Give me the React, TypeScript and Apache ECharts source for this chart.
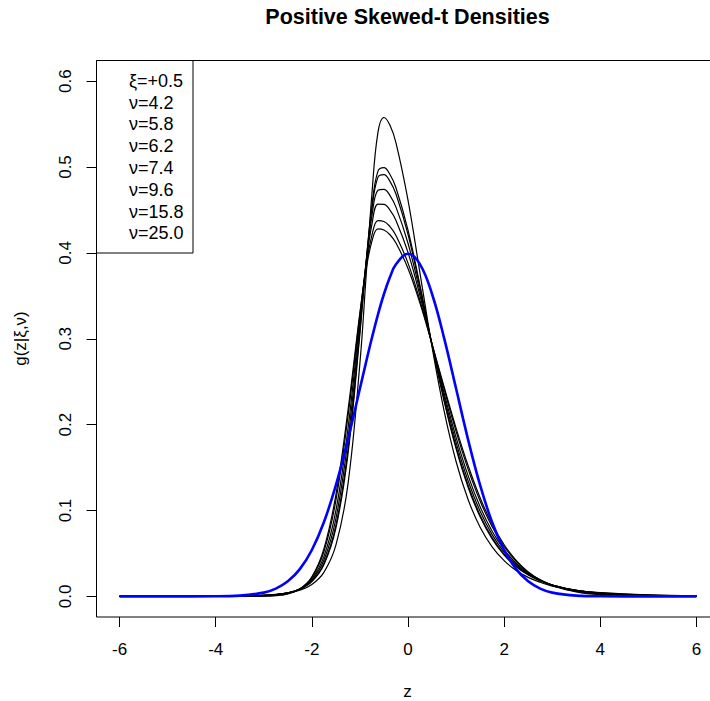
import React, { useEffect, useRef } from "react";
import * as echarts from "echarts";

// z grid at which the curves were read
const zGrid = [
  -6, -5, -4, -3.5, -3, -2.75, -2.5, -2.25, -2, -1.75, -1.5, -1.25, -1, -0.875, -0.75, -0.625,
  -0.5, -0.375, -0.25, 0, 0.25, 0.5, 0.75, 1, 1.25, 1.5, 1.75, 2, 2.25, 2.5, 2.75, 3, 3.5, 4, 5, 6,
];

// skewed-t densities (black curves)
const nu42 = [
  0.00003, 0.00008, 0.00028, 0.0006, 0.00145, 0.00238, 0.00407, 0.00732, 0.0139, 0.028, 0.0596, 0.1302,
  0.2718, 0.3701, 0.4691, 0.5402, 0.5576, 0.5485, 0.5282, 0.4615, 0.3762, 0.2907, 0.2163, 0.1571, 0.1128,
  0.0806, 0.0577, 0.0416, 0.0302, 0.0221, 0.0164, 0.012, 0.0071, 0.0043, 0.0018, 0.0008,
];
const nu58 = [
  0.00001, 0.00003, 0.00016, 0.00041, 0.00122, 0.00222, 0.00422, 0.00836, 0.0173, 0.0369, 0.0795, 0.1651,
  0.306, 0.3863, 0.4551, 0.4952, 0.4992, 0.4912, 0.4758, 0.4265, 0.3618, 0.2927, 0.2278, 0.172, 0.1271,
  0.0926, 0.0669, 0.0481, 0.0346, 0.025, 0.0181, 0.0132, 0.0071, 0.004, 0.0014, 0.0005,
];
const nu62 = [
  0.00001, 0.00003, 0.00014, 0.00037, 0.00116, 0.00216, 0.0042, 0.00849, 0.0178, 0.0384, 0.0828, 0.1704,
  0.3098, 0.3869, 0.4517, 0.4882, 0.4912, 0.4833, 0.4686, 0.4216, 0.3597, 0.2928, 0.2294, 0.1743, 0.1294,
  0.0946, 0.0684, 0.0492, 0.0353, 0.0254, 0.0183, 0.0133, 0.0071, 0.0039, 0.0013, 0.0005,
];
const nu74 = [
  0, 0.00001, 0.00009, 0.00028, 0.001, 0.00198, 0.00408, 0.0087, 0.019, 0.042, 0.0906, 0.182,
  0.3172, 0.3873, 0.4434, 0.4729, 0.474, 0.4667, 0.4533, 0.4112, 0.355, 0.2932, 0.233, 0.1794, 0.1346,
  0.0991, 0.0719, 0.0516, 0.0369, 0.0263, 0.0187, 0.0133, 0.0069, 0.0036, 0.0011, 0.0004,
];
const nu96 = [
  0, 0, 0.00005, 0.00018, 0.00078, 0.0017, 0.00383, 0.0088, 0.0204, 0.0463, 0.0998, 0.1946,
  0.3236, 0.386, 0.4335, 0.4567, 0.4565, 0.4498, 0.4378, 0.4005, 0.3501, 0.2937, 0.237, 0.1852, 0.1406,
  0.1043, 0.0759, 0.0545, 0.0386, 0.0272, 0.019, 0.0133, 0.0065, 0.0032, 0.0008, 0.0002,
];
const nu158 = [
  0, 0, 0.00001, 0.00007, 0.00047, 0.00124, 0.00331, 0.0087, 0.022, 0.052, 0.1117, 0.209,
  0.3287, 0.3822, 0.4207, 0.4376, 0.4366, 0.4306, 0.4203, 0.3881, 0.3442, 0.2937, 0.2417, 0.1922, 0.1482,
  0.1111, 0.0812, 0.0581, 0.0408, 0.0281, 0.0192, 0.0129, 0.0057, 0.0025, 0.0005, 0.0001,
];
const nu250 = [
  0, 0, 0, 0.00003, 0.0003, 0.00095, 0.00292, 0.00845, 0.0227, 0.0553, 0.1182, 0.2162,
  0.3304, 0.3793, 0.4136, 0.428, 0.4267, 0.4211, 0.4115, 0.3819, 0.3412, 0.2938, 0.2441, 0.196, 0.1524,
  0.1149, 0.0842, 0.0601, 0.0419, 0.0285, 0.0191, 0.0125, 0.0052, 0.002, 0.0003, 0,
];
// standard normal reference (blue curve)
const normalRef = [
  0, 0, 0.0001, 0.0009, 0.0044, 0.0091, 0.0175, 0.0317, 0.054, 0.0863, 0.1295, 0.1826,
  0.242, 0.2721, 0.3011, 0.3282, 0.3521, 0.3718, 0.3867, 0.3989, 0.3867, 0.3521, 0.3011, 0.242, 0.1826,
  0.1295, 0.0863, 0.054, 0.0317, 0.0175, 0.0091, 0.0044, 0.0009, 0.0001, 0, 0,
];

const nuLabels = ["ν=4.2", "ν=5.8", "ν=6.2", "ν=7.4", "ν=9.6", "ν=15.8", "ν=25.0"];
const xiLabel = "ξ=+0.5";
const xTicks = [-6, -4, -2, 0, 2, 4, 6];
const yTicks = [0, 0.1, 0.2, 0.3, 0.4, 0.5, 0.6];
const titleText = "Positive Skewed-t Densities";
const xName = "z";
const yName = "g(z|ξ,ν)";

const FONT = "'Liberation Sans', Arial, Helvetica, sans-serif";

export default function App() {
  const ref = useRef<HTMLDivElement>(null);

  useEffect(() => {
    if (!ref.current) return;
    const chart = echarts.init(ref.current, null, { renderer: "svg" });
    const blackCurves = [nu42, nu58, nu62, nu74, nu96, nu158, nu250];
    const series: any[] = blackCurves.map((vals, i) => ({
      type: "line",
      name: nuLabels[i],
      data: zGrid.map((z, j) => [z, vals[j]]),
      showSymbol: false,
      smooth: 0.4,
      silent: true,
      lineStyle: { color: "#000", width: 1.2 },
      z: 2,
    }));
    series.push({
      type: "line",
      name: "N(0,1)",
      data: zGrid.map((z, j) => [z, normalRef[j]]),
      showSymbol: false,
      smooth: 0.4,
      silent: true,
      lineStyle: { color: "#0000ff", width: 2.6 },
      z: 3,
    });

    const legendLines = [xiLabel, ...nuLabels];
    const graphic: any[] = [
      {
        type: "text",
        x: 407.5,
        y: 16.5,
        style: {
          text: titleText,
          font: `bold 21.5px ${FONT}`,
          fill: "#000",
          textAlign: "center",
          textVerticalAlign: "middle",
        },
      },
      {
        type: "text",
        x: 407.5,
        y: 691,
        style: {
          text: xName,
          font: `17px ${FONT}`,
          fill: "#000",
          textAlign: "center",
          textVerticalAlign: "middle",
        },
      },
      {
        type: "text",
        x: 20,
        y: 338.5,
        rotation: Math.PI / 2,
        style: {
          text: yName,
          font: `17px ${FONT}`,
          fill: "#000",
          textAlign: "center",
          textVerticalAlign: "middle",
        },
      },
      {
        type: "rect",
        shape: { x: 96.5, y: 60.5, width: 96.5, height: 192.5 },
        style: { fill: "#fff", stroke: "#000", lineWidth: 1 },
        z: 10,
      },
      ...legendLines.map((t, i) => ({
        type: "text",
        x: 129,
        y: 80.7 + 21.8 * i,
        z: 11,
        style: {
          text: t,
          font: `18px ${FONT}`,
          fill: "#000",
          textAlign: "left",
          textVerticalAlign: "middle",
        },
      })),
    ];

    chart.setOption({
      animation: false,
      backgroundColor: "#fff",
      grid: {
        show: true,
        left: 96.5,
        top: 60.5,
        width: 623,
        height: 556.5,
        borderColor: "#000",
        borderWidth: 1,
        backgroundColor: "transparent",
        containLabel: false,
        outerBoundsMode: "none",
      },
      xAxis: {
        type: "value",
        min: -6.48,
        max: 6.48,
        axisLine: { show: false, onZero: false },
        splitLine: { show: false },
        axisTick: {
          show: true,
          customValues: xTicks,
          length: 10,
          lineStyle: { color: "#000", width: 1 },
        },
        axisLabel: {
          customValues: xTicks,
          margin: 24,
          fontSize: 17,
          fontFamily: FONT,
          color: "#000",
          formatter: (v: number) => String(v),
        },
      },
      yAxis: {
        type: "value",
        min: -0.024,
        max: 0.624,
        axisLine: { show: false, onZero: false },
        splitLine: { show: false },
        axisTick: {
          show: true,
          customValues: yTicks,
          length: 10,
          lineStyle: { color: "#000", width: 1 },
        },
        axisLabel: {
          customValues: yTicks,
          rotate: 90,
          margin: 23,
          fontSize: 17,
          fontFamily: FONT,
          color: "#000",
          formatter: (v: number) => v.toFixed(1),
        },
      },
      graphic,
      series,
    });
    return () => chart.dispose();
  }, []);

  return (
    <div
      ref={ref}
      style={{ position: "fixed", left: 0, top: 0, width: 710, height: 701, background: "#fff" }}
    />
  );
}
